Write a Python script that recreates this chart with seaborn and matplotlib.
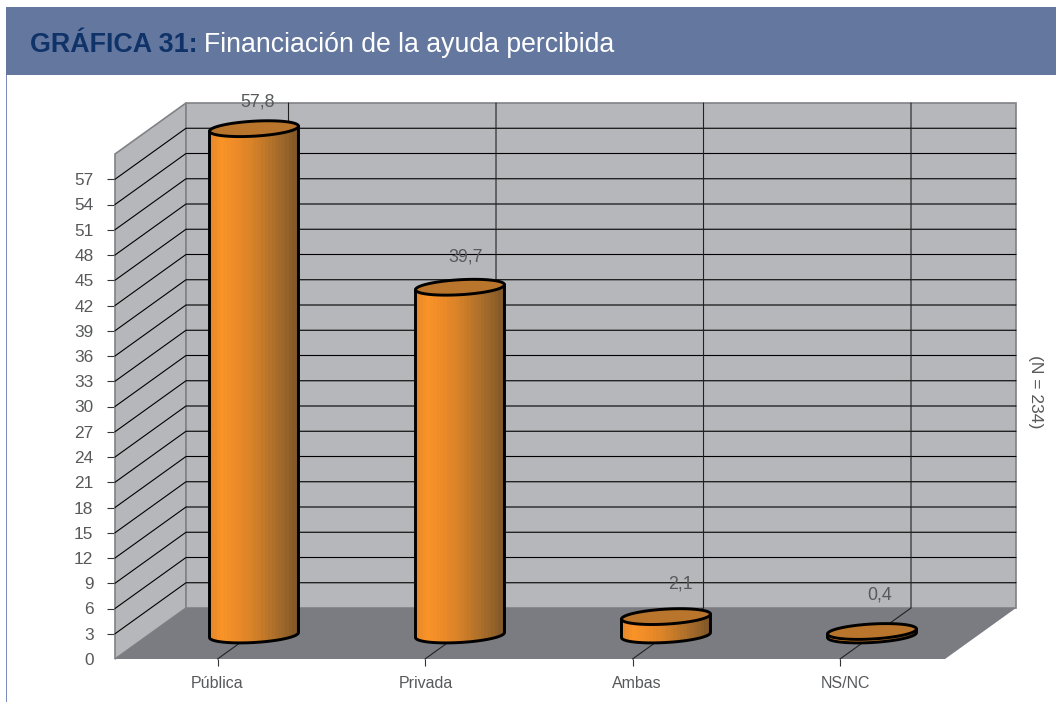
import numpy as np
import pandas as pd
import matplotlib
matplotlib.use('Agg')
import matplotlib.pyplot as plt
from matplotlib.colors import LinearSegmentedColormap
from matplotlib.patches import Rectangle, PathPatch
from matplotlib.path import Path
from matplotlib.transforms import ScaledTranslation
import seaborn as sns

categorias = ['Pública', 'Privada', 'Ambas', 'NS/NC']
porcentajes = [57.8, 39.7, 2.1, 0.4]
etiquetas = ['57,8', '39,7', '2,1', '0,4']
y_ticks = list(range(0, 58, 3))

W, H = 1056, 702
GREY_TEXT = '#58595b'

sns.set_theme(style='white')
plt.rcParams['font.family'] = ['Liberation Sans', 'DejaVu Sans']

fig = plt.figure(figsize=(W / 100, H / 100), dpi=100)


def box(left, top, right, bottom):
    # pixel box (from top left) to figure fractions
    return [left / W, 1 - bottom / H, (right - left) / W, (bottom - top) / H]


# header band
fig.patches.append(Rectangle((6 / W, 1 - 75 / H), 1050 / W, 68 / H, transform=fig.transFigure,
                             facecolor='#64789f', edgecolor='none'))
fig.patches.append(Rectangle((6 / W, 0), 1.2 / W, 1 - 75 / H, transform=fig.transFigure,
                             facecolor='#7c8cc0', edgecolor='none'))
fig.text(30 / W, 1 - 45 / H, 'GRÁFICA 31:', color='#0f3268', fontsize=19.4, fontweight='bold',
         va='center', ha='left')
fig.text(204 / W, 1 - 45 / H, 'Financiación de la ayuda percibida', color='white', fontsize=19.2,
         va='center', ha='left')
fig.text(1036 / W, 1 - 392 / H, '(N = 234)', color=GREY_TEXT, fontsize=12.6, rotation=-90,
         va='center', ha='center')

# frame: front plane of the 3D box, depth is added by hand
ax = fig.add_axes(box(115, 154, 945, 659))
x0, x1 = -0.494, 3.506
y1 = 60
ax.set_xlim(x0, x1)
ax.set_ylim(0, y1)
ax.patch.set_alpha(0)
depth_x = 71 / (830 / 4)
depth_y = 51 / (505 / 60)

wall = '#b6b7bb'
edge = '#808285'
ax.fill([x0, x0 + depth_x, x0 + depth_x, x0], [0, depth_y, y1 + depth_y, y1],
        facecolor=wall, edgecolor=edge, lw=1.2, clip_on=False, zorder=1)
ax.fill([x0 + depth_x, x1 + depth_x, x1 + depth_x, x0 + depth_x],
        [depth_y, depth_y, y1 + depth_y, y1 + depth_y],
        facecolor=wall, edgecolor=edge, lw=1.2, clip_on=False, zorder=1)
ax.fill([x0, x1, x1 + depth_x, x0 + depth_x], [0, 0, depth_y, depth_y],
        facecolor='#7b7c81', edgecolor='none', clip_on=False, zorder=2)

for v in y_ticks[1:]:
    ax.plot([x0, x0 + depth_x, x1 + depth_x], [v, v + depth_y, v + depth_y],
            color='black', lw=0.8, clip_on=False, zorder=3)
for i in range(len(categorias)):
    ax.plot([i, i + depth_x, i + depth_x], [0, depth_y, y1 + depth_y],
            color='#222222', lw=0.8, clip_on=False, zorder=3)

ax.set_xticks(range(len(categorias)))
ax.set_xticklabels(categorias, fontsize=11.5, color=GREY_TEXT)
ax.set_yticks(y_ticks)
ax.set_yticklabels([str(v) for v in y_ticks], fontsize=12.4, color=GREY_TEXT)
ax.tick_params(axis='x', length=5, width=0.8, color='#333333', pad=7, bottom=True)
ax.tick_params(axis='y', length=5.5, width=0.8, color='#333333', pad=10, left=True)
ax.yaxis.get_major_ticks()[0].tick1line.set_visible(False)
sns.despine(ax=ax, left=True, bottom=True)

# the last two labels sit a bit right of their ticks
for label, shift in zip(ax.get_xticklabels(), [0, 1, 4, 5]):
    label.set_transform(label.get_transform() + ScaledTranslation(shift / 100, 0, fig.dpi_scale_trans))

# bars sit half way into the box, on their own scale
PX_PER_UNIT = 8.76
BASE_PX = 635
ax_bars = fig.add_axes(box(151, BASE_PX - 68 * PX_PER_UNIT, 975, BASE_PX + 2 * PX_PER_UNIT))
df = pd.DataFrame({'categoria': categorias, 'porcentaje': porcentajes})
sns.barplot(data=df, x='categoria', y='porcentaje', width=0.432, color='#e08a2a', ax=ax_bars,
            saturation=1)
ax_bars.set_xlim(-0.5, 3.5)
ax_bars.set_ylim(-2, 68)
ax_bars.axis('off')

band_colors = ['#e8882a', '#fa9428', '#f28e29', '#e88928', '#dc8428', '#cc7d29',
               '#b8742a', '#a66c2a', '#94622a', '#7d5528']
shade = LinearSegmentedColormap.from_list('cilindro', band_colors)
gradient = shade(np.linspace(0, 1, 26))[np.newaxis, :, :]

B_PX, TILT_PX = 7.5, 2.5
t_low = np.linspace(np.pi, 2 * np.pi, 60)
t_full = np.linspace(0, 2 * np.pi, 120)


def ellipse_pts(cx, cy, half, t):
    xs = cx + half * np.cos(t)
    ys = cy + (B_PX * np.sin(t) + TILT_PX * np.cos(t)) / PX_PER_UNIT
    return np.column_stack([xs, ys])


label_offsets = [(4, 27), (6, 30), (14, 33), (8, 36)]
for bar, valor, texto, off in zip(ax_bars.patches, porcentajes, etiquetas, label_offsets):
    cx = bar.get_x() + bar.get_width() / 2
    half = bar.get_width() / 2
    bar.set_visible(False)

    low = ellipse_pts(cx, 0, half, t_low)
    side = np.vstack([[cx - half, valor - TILT_PX / PX_PER_UNIT], low,
                      [cx + half, valor + TILT_PX / PX_PER_UNIT]])
    body = PathPatch(Path(np.vstack([side, side[0]]), closed=True), facecolor='none',
                     edgecolor='none', zorder=4)
    ax_bars.add_patch(body)
    img = ax_bars.imshow(gradient, extent=(cx - half, cx + half, -2, valor + 1), aspect='auto',
                         interpolation='nearest', zorder=4)
    img.set_clip_path(body)
    ax_bars.plot(side[:, 0], side[:, 1], color='black', lw=2.1, zorder=5, solid_capstyle='round')

    top = ellipse_pts(cx, valor, half, t_full)
    ax_bars.fill(top[:, 0], top[:, 1], facecolor='#b8752b', edgecolor='black', lw=2.1, zorder=6)

    ax_bars.annotate(texto, (cx, valor), xytext=(off[0] * 0.72, off[1] * 0.72),
                     textcoords='offset points', ha='center', va='center',
                     fontsize=12.8, color=GREY_TEXT, zorder=7, annotation_clip=False)

ax_bars.set_xlim(-0.5, 3.5)
ax_bars.set_ylim(-2, 68)

fig.savefig('out.png', dpi=100)
